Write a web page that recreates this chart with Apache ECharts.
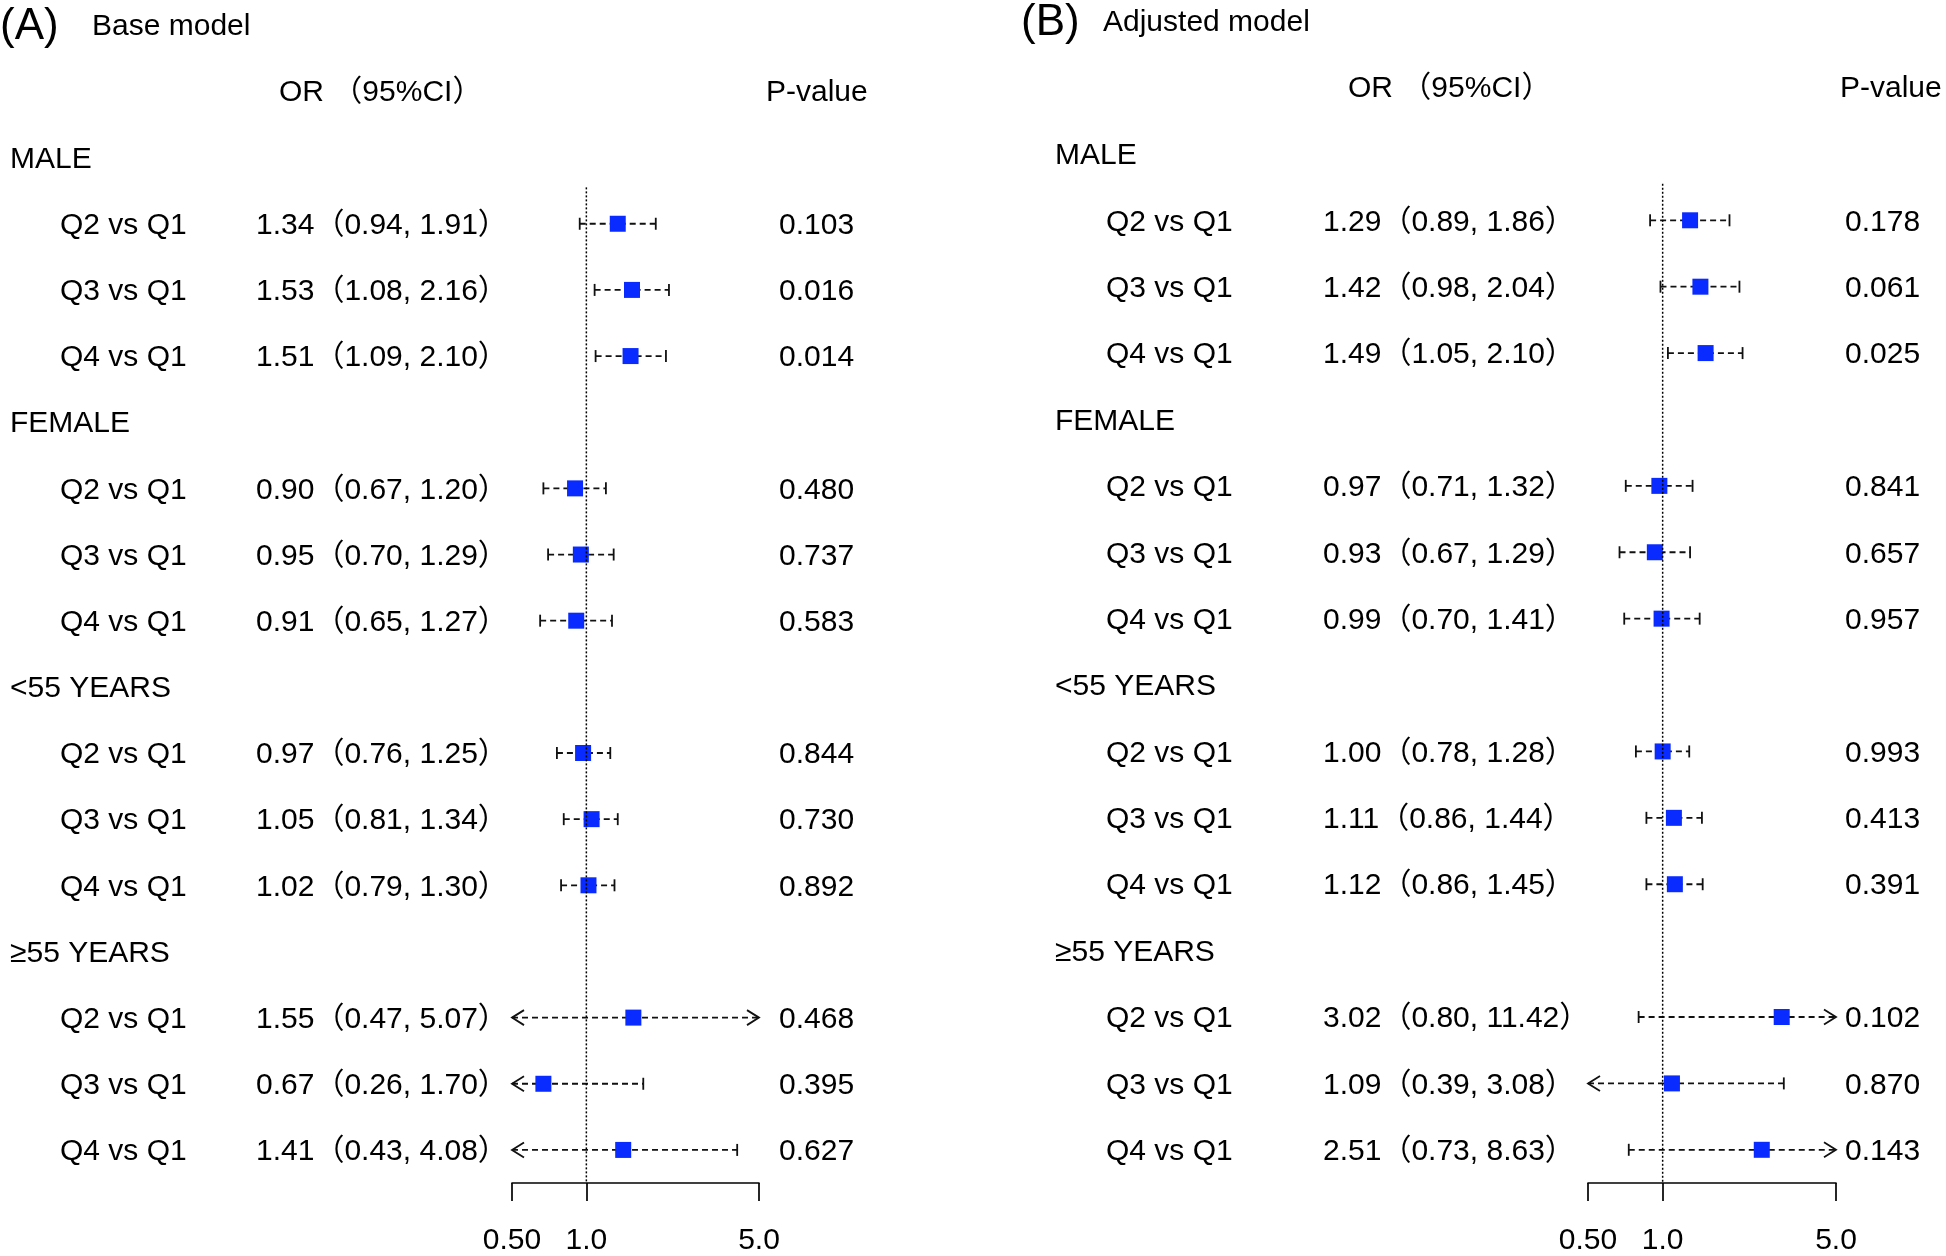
<!DOCTYPE html>
<html><head><meta charset="utf-8">
<script src="https://cdn.jsdelivr.net/npm/echarts@6/dist/echarts.min.js"></script>
<style>html,body{margin:0;padding:0;background:#fff}#c{width:1946px;height:1256px}</style>
</head><body><div id="c"></div>
<script>
// ---------- data ----------
const groups = ['MALE', 'FEMALE', '<55 YEARS', '≥55 YEARS'];
const comparisons = ['Q2 vs Q1', 'Q3 vs Q1', 'Q4 vs Q1'];
const tickValues = [0.5, 1, 5];
const tickLabels = ['0.50', '1.0', '5.0'];
const refValue = 1;

const baseOR    = [1.34, 1.53, 1.51, 0.90, 0.95, 0.91, 0.97, 1.05, 1.02, 1.55, 0.67, 1.41];
const baseLower = [0.94, 1.08, 1.09, 0.67, 0.70, 0.65, 0.76, 0.81, 0.79, 0.47, 0.26, 0.43];
const baseUpper = [1.91, 2.16, 2.10, 1.20, 1.29, 1.27, 1.25, 1.34, 1.30, 5.07, 1.70, 4.08];
const baseP     = ['0.103', '0.016', '0.014', '0.480', '0.737', '0.583', '0.844', '0.730', '0.892', '0.468', '0.395', '0.627'];

const adjOR    = [1.29, 1.42, 1.49, 0.97, 0.93, 0.99, 1.00, 1.11, 1.12, 3.02, 1.09, 2.51];
const adjLower = [0.89, 0.98, 1.05, 0.71, 0.67, 0.70, 0.78, 0.86, 0.86, 0.80, 0.39, 0.73];
const adjUpper = [1.86, 2.04, 2.10, 1.32, 1.29, 1.41, 1.28, 1.44, 1.45, 11.42, 3.08, 8.63];
const adjP     = ['0.178', '0.061', '0.025', '0.841', '0.657', '0.957', '0.993', '0.413', '0.391', '0.102', '0.870', '0.143'];

// ---------- styling / layout ----------
const FONT = '"Liberation Sans", Arial, "Noto Sans CJK SC", sans-serif';
const FS = 30;
const BLUE = '#0a2bff';
const XMIN = 0.5, XMAX = 5;
const DY = 2;
const BOX = 16;

const panels = [
  { title: '(A)', sub: 'Base model', titleX: 0, subX: 92, titleY: 25, headY: 91, orHeadX: 279, pHeadX: 766,
    groupX: 10, labelX: 60, orX: 256, pX: 779,
    grid: { left: 512, width: 247, top: 157.6, height: 1029.4 },
    or: baseOR, lo: baseLower, hi: baseUpper, p: baseP },
  { title: '(B)', sub: 'Adjusted model', titleX: 1021, subX: 1103, titleY: 21, headY: 87, orHeadX: 1348, pHeadX: 1840,
    groupX: 1055, labelX: 1106, orX: 1323, pX: 1845,
    grid: { left: 1588, width: 248, top: 153.9, height: 1033.1 },
    or: adjOR, lo: adjLower, hi: adjUpper, p: adjP }
];

function buildRows(pn) {
  const rows = [];
  groups.forEach((g, gi) => {
    rows.push({ row: gi * 4, group: g });
    comparisons.forEach((c, ci) => {
      const i = gi * 3 + ci;
      rows.push({
        row: gi * 4 + 1 + ci, label: c, idx: i,
        orText: pn.or[i].toFixed(2) + '（' + pn.lo[i].toFixed(2) + ', ' + pn.hi[i].toFixed(2) + '）',
        pText: pn.p[i]
      });
    });
  });
  return rows;
}

function txt(text, x, y, size) {
  return { type: 'text', style: { text: text, x: x, y: y + DY, fill: '#000', fontSize: size || FS, fontFamily: FONT, align: 'left', verticalAlign: 'middle' } };
}

const option = {
  backgroundColor: '#fff',
  animation: false,
  grid: [], xAxis: [], yAxis: [], series: [], graphic: []
};

panels.forEach((pn, k) => {
  const rows = buildRows(pn);
  option.grid.push(Object.assign({ containLabel: false }, pn.grid));
  option.xAxis.push({
    type: 'log', logBase: 10, gridIndex: k, min: XMIN, max: XMAX, position: 'bottom',
    splitLine: { show: false },
    axisLine: { show: true, onZero: false, lineStyle: { color: '#000', width: 1.7 } },
    axisTick: { show: true, length: 18, inside: false, customValues: tickValues, lineStyle: { color: '#000', width: 1.7 } },
    axisLabel: { show: true, customValues: tickValues, margin: 43, color: '#000', fontSize: FS, fontFamily: FONT,
      formatter: v => { const j = tickValues.findIndex(t => Math.abs(t - v) < 1e-9); return j >= 0 ? tickLabels[j] : ''; } }
  });
  option.yAxis.push({ type: 'value', gridIndex: k, inverse: true, min: 0, max: 15.5, show: false });

  // text columns
  option.series.push({
    type: 'custom', xAxisIndex: k, yAxisIndex: k, clip: false, silent: true,
    data: rows.map(r => [refValue, r.row]),
    renderItem: (params, api) => {
      const r = rows[params.dataIndex];
      const y = api.coord([refValue, api.value(1)])[1];
      if (r.group) return { type: 'group', children: [txt(r.group, pn.groupX, y)] };
      return { type: 'group', children: [txt(r.label, pn.labelX, y), txt(r.orText, pn.orX, y), txt(r.pText, pn.pX, y)] };
    }
  });

  // reference line at OR = 1
  option.series.push({
    type: 'line', xAxisIndex: k, yAxisIndex: k, symbol: 'none', silent: true,
    data: [[refValue, 0.45], [refValue, 15.5]],
    lineStyle: { color: '#000', width: 1.5, type: [2, 2] }
  });

  // CI + estimate
  option.series.push({
    type: 'custom', xAxisIndex: k, yAxisIndex: k, clip: false, silent: true,
    data: rows.filter(r => !r.group).map(r => [pn.or[r.idx], r.row, pn.lo[r.idx], pn.hi[r.idx]]),
    renderItem: (params, api) => {
      const est = api.value(0), row = api.value(1), lo = api.value(2), hi = api.value(3);
      const a = api.coord([Math.max(lo, XMIN), row]);
      const b = api.coord([Math.min(hi, XMAX), row]);
      const e = api.coord([est, row]);
      const y = a[1];
      const ls = { stroke: '#111', lineWidth: 1.8, fill: null };
      const ch = [{ type: 'line', shape: { x1: a[0], y1: y, x2: b[0], y2: y }, style: Object.assign({}, ls, { lineDash: [6, 4] }) }];
      if (lo < XMIN) ch.push({ type: 'polyline', shape: { points: [[a[0] + 12, y - 7.5], [a[0], y], [a[0] + 12, y + 7.5]] }, style: ls });
      else ch.push({ type: 'line', shape: { x1: a[0], y1: y - 6, x2: a[0], y2: y + 6 }, style: ls });
      if (hi > XMAX) ch.push({ type: 'polyline', shape: { points: [[b[0] - 12, y - 7.5], [b[0], y], [b[0] - 12, y + 7.5]] }, style: ls });
      else ch.push({ type: 'line', shape: { x1: b[0], y1: y - 6, x2: b[0], y2: y + 6 }, style: ls });
      ch.push({ type: 'rect', shape: { x: e[0] - BOX / 2, y: y - BOX / 2, width: BOX, height: BOX }, style: { fill: BLUE } });
      return { type: 'group', children: ch };
    }
  });

  option.graphic.push(txt(pn.title, pn.titleX, pn.titleY, 44));
  option.graphic.push(txt(pn.sub, pn.subX, pn.titleY, FS));
  option.graphic.push(txt('OR （95%CI）', pn.orHeadX, pn.headY, FS));
  option.graphic.push(txt('P-value', pn.pHeadX, pn.headY, FS));
});

const chart = echarts.init(document.getElementById('c'), null, { renderer: 'canvas' });
chart.setOption(option);
</script>
</body></html>
